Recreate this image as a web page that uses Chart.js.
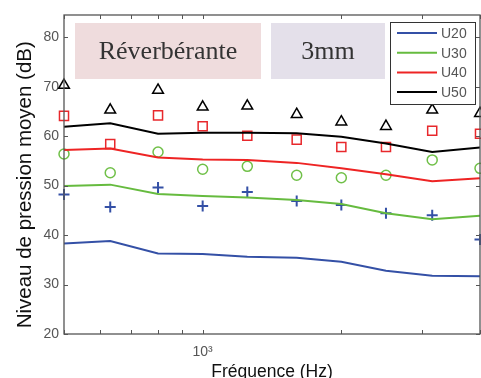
<!DOCTYPE html>
<html lang="fr">
<head>
<meta charset="UTF-8">
<title>Niveau de pression moyen</title>
<script src="https://cdn.jsdelivr.net/npm/chart.js@4"></script>
<style>
  html, body { margin: 0; background: #fff; overflow: hidden; }
  #cadre { width: 481px; height: 378px; }
</style>
</head>
<body>
<div id="cadre"><canvas id="graphe"></canvas></div>

<script>
  // bandes de tiers d'octave (Hz)
  const frequences = [500, 630, 800, 1000, 1250, 1600, 2000, 2500, 3150, 4000];

  // niveaux calculés (lignes)
  const calcU20 = [38.3, 38.8, 36.3, 36.2, 35.6, 35.4, 34.6, 32.8, 31.8, 31.7];
  const calcU30 = [49.9, 50.2, 48.3, 47.9, 47.6, 47.1, 46.3, 44.4, 43.2, 43.9];
  const calcU40 = [57.2, 57.5, 55.7, 55.3, 55.2, 54.6, 53.5, 52.3, 50.9, 51.5];
  const calcU50 = [61.9, 62.6, 60.5, 60.7, 60.7, 60.6, 59.9, 58.5, 56.8, 57.7];

  // niveaux mesurés (symboles)
  const mesU20 = [48.2, 45.7, 49.6, 45.9, 48.7, 46.9, 46.1, 44.4, 44.0, 39.1];
  const mesU30 = [56.4, 52.6, 56.8, 53.3, 53.9, 52.1, 51.6, 52.1, 55.2, 53.5];
  const mesU40 = [64.1, 58.4, 64.2, 62.0, 60.1, 59.3, 57.8, 57.8, 61.1, 60.5];
  const mesU50 = [70.3, 65.3, 69.3, 65.9, 66.1, 64.4, 62.9, 62.0, 65.3, 64.6];

  const ticksX = [500, 600, 700, 800, 900, 1000, 2000, 3000, 4000];
  const ticksY = [20, 30, 40, 50, 60, 70, 80];

  const bleu = '#3450a6', vert = '#66bb3f', rouge = '#ee2424', noir = '#000000';

  const pts = (vals) => frequences.map((f, i) => ({ x: f, y: vals[i] }));

  function ligne(label, vals, couleur) {
    return {
      label: label,
      data: pts(vals),
      borderColor: couleur,
      backgroundColor: couleur,
      borderWidth: 2,
      pointRadius: 0,
      tension: 0,
      legende: true
    };
  }

  function symboles(label, vals, couleur, style, rayon, epaisseur) {
    return {
      label: label,
      data: pts(vals),
      showLine: false,
      pointStyle: style,
      pointRadius: rayon,
      pointBorderColor: couleur,
      pointBackgroundColor: 'transparent',
      pointBorderWidth: epaisseur,
      clip: false
    };
  }

  // cadre fermé + graduations vers l'intérieur (style matlab)
  const cadre = {
    id: 'cadre',
    afterDatasetsDraw(chart) {
      const { ctx, chartArea: a, scales } = chart;
      ctx.save();
      ctx.strokeStyle = '#555';
      ctx.lineWidth = 1.3;
      ctx.strokeRect(a.left, a.top, a.right - a.left, a.bottom - a.top);
      ctx.lineWidth = 1;
      ctx.beginPath();
      scales.x.ticks.forEach(t => {
        const px = Math.round(scales.x.getPixelForValue(t.value)) + 0.5;
        ctx.moveTo(px, a.bottom); ctx.lineTo(px, a.bottom - 4);
        ctx.moveTo(px, a.top); ctx.lineTo(px, a.top + 4);
      });
      scales.y.ticks.forEach(t => {
        const py = Math.round(scales.y.getPixelForValue(t.value)) + 0.5;
        ctx.moveTo(a.left, py); ctx.lineTo(a.left + 4, py);
        ctx.moveTo(a.right, py); ctx.lineTo(a.right - 4, py);
      });
      ctx.stroke();
      ctx.restore();
    }
  };

  // encadrés de texte
  const encadres = {
    id: 'encadres',
    beforeDatasetsDraw(chart) {
      const { ctx, chartArea: a } = chart;
      ctx.save();
      ctx.fillStyle = '#efdcdd';
      ctx.fillRect(a.left + 11, a.top + 8, 186, 56);
      ctx.fillStyle = '#e4e0ea';
      ctx.fillRect(a.left + 207, a.top + 8, 114, 56);
      ctx.fillStyle = '#333';
      ctx.font = '26px "Liberation Serif"';
      ctx.textAlign = 'center';
      ctx.textBaseline = 'middle';
      ctx.fillText('Réverbérante', a.left + 11 + 93, a.top + 37);
      ctx.fillText('3mm', a.left + 207 + 57, a.top + 37);
      ctx.restore();
    }
  };

  // légende en haut à droite, dans le cadre
  const legende = {
    id: 'legende',
    afterDraw(chart) {
      const { ctx, chartArea: a } = chart;
      const items = chart.data.datasets.filter(d => d.legende);
      const w = 85, h = 82;
      const x0 = a.right - 5 - w, y0 = a.top + 7;
      ctx.save();
      ctx.fillStyle = '#fff';
      ctx.fillRect(x0, y0, w, h);
      ctx.strokeStyle = '#333';
      ctx.lineWidth = 1;
      ctx.strokeRect(x0 + 0.5, y0 + 0.5, w, h);
      ctx.font = '14px "Liberation Sans"';
      ctx.textBaseline = 'middle';
      items.forEach((d, i) => {
        const y = y0 + 11 + i * 19.7;
        ctx.strokeStyle = d.borderColor;
        ctx.lineWidth = 2;
        ctx.beginPath();
        ctx.moveTo(x0 + 7, y); ctx.lineTo(x0 + 47, y);
        ctx.stroke();
        ctx.fillStyle = '#555';
        ctx.fillText(d.label, x0 + 51, y + 1);
      });
      ctx.restore();
    }
  };

  new Chart(document.getElementById('graphe'), {
    type: 'line',
    data: {
      datasets: [
        ligne('U20', calcU20, bleu),
        ligne('U30', calcU30, vert),
        ligne('U40', calcU40, rouge),
        ligne('U50', calcU50, noir),
        symboles('U20 mesuré', mesU20, bleu, 'cross', 5.5, 2),
        symboles('U30 mesuré', mesU30, '#70c048', 'circle', 5, 1.5),
        symboles('U40 mesuré', mesU40, '#e8282c', 'rect', 6.4, 1.5),
        symboles('U50 mesuré', mesU50, noir, 'triangle', 6.2, 1.5)
      ]
    },
    options: {
      responsive: true,
      maintainAspectRatio: false,
      animation: false,
      layout: { autoPadding: false, padding: { top: 15, right: 1, left: 0, bottom: 0 } },
      plugins: {
        legend: { display: false },
        tooltip: { enabled: false }
      },
      scales: {
        x: {
          type: 'logarithmic',
          min: 500,
          max: 4000,
          grid: { display: false, drawTicks: false },
          border: { display: false },
          afterBuildTicks: (s) => { s.ticks = ticksX.map(v => ({ value: v })); },
          afterFit: (s) => { s.height = 44; s.paddingLeft = 0; s.paddingRight = 0; },
          ticks: {
            autoSkip: false,
            maxRotation: 0,
            padding: 0,
            color: '#555',
            font: { family: 'Liberation Sans', size: 14, lineHeight: 2.6 },
            callback: (v) => v === 1000 ? '10³' : ''
          },
          title: {
            display: true,
            text: 'Fréquence (Hz)',
            color: '#111',
            font: { family: 'Liberation Sans', size: 17.5 },
            padding: { top: 0, bottom: -5 }
          }
        },
        y: {
          min: 20,
          max: 84.5,
          grid: { display: false, drawTicks: false },
          border: { display: false },
          afterBuildTicks: (s) => { s.ticks = ticksY.map(v => ({ value: v })); },
          afterFit: (s) => { s.width = 64; s.paddingTop = 0; s.paddingBottom = 0; },
          ticks: {
            padding: 5,
            color: '#555',
            font: { family: 'Liberation Sans', size: 14 }
          },
          title: {
            display: true,
            text: ' Niveau de pression moyen (dB)',
            align: 'start',
            color: '#111',
            font: { family: 'Liberation Sans', size: 20.5 },
            padding: { top: 13, bottom: 0 }
          }
        }
      }
    },
    plugins: [encadres, cadre, legende]
  });
</script>
</body>
</html>
